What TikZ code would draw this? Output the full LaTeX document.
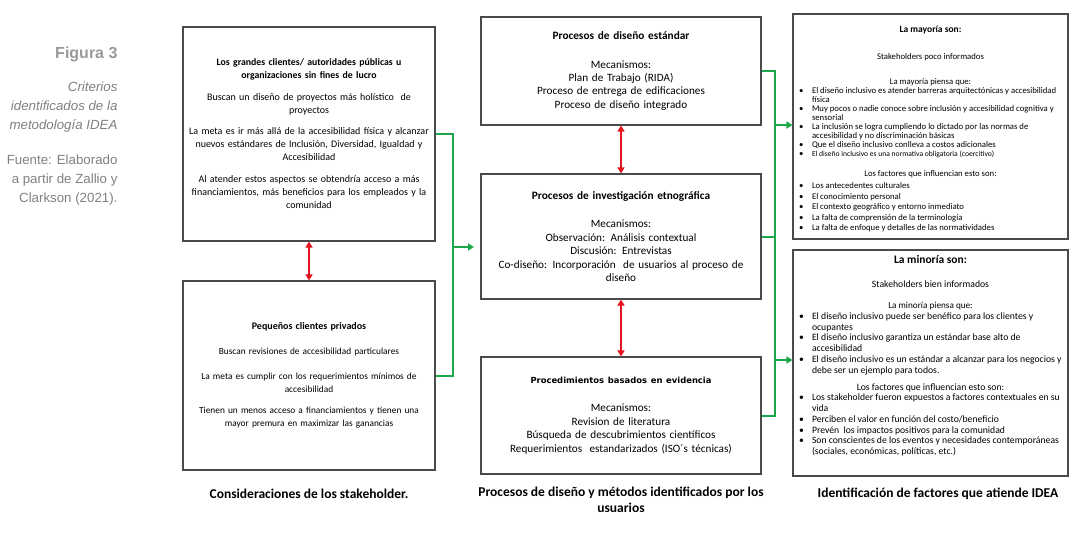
\documentclass[tikz,border=0pt]{standalone}
\usepackage{fontspec}
\setmainfont{Carlito}
\newfontfamily\arialfont{Liberation Sans}
\newfontfamily\anchofont{DejaVu Sans}
\usetikzlibrary{positioning, arrows.meta}
\definecolor{bordegris}{HTML}{4A4A4A}
\definecolor{verdelin}{HTML}{1BA84A}
\definecolor{rojolin}{HTML}{E3141B}
\definecolor{grisfig}{HTML}{999999}
\definecolor{gristxt}{HTML}{808080}
\newcommand{\cen}[1]{{\centering #1\par}}
\newcommand{\vin}[1]{\par\hangindent=15pt\hangafter=1\noindent\hbox to 15pt{\hspace{2pt}\textbullet\hfil}#1\par}

\begin{document}
\begin{tikzpicture}[
  x=1pt, y=-1pt,
  caja/.style={rectangle, draw=bordegris, line width=1.1pt, fill=white, align=center, inner sep=5pt},
  izq/.style={caja, minimum width=250pt, text width=242pt, font=\fontsize{10}{13}\selectfont},
  med/.style={caja, minimum width=280pt, text width=270pt, font=\fontsize{11.2}{13.4}\selectfont},
  der/.style={caja, minimum width=275pt, inner sep=4pt},
  tit/.style={font=\fontsize{13.5}{16}\selectfont\bfseries, align=center},
  leyenda/.style={anchor=east, align=right, text=gristxt, font=\arialfont\fontsize{13.3}{19}\selectfont},
  dobl/.style={{Triangle[length=6pt,width=7pt]}-{Triangle[length=6pt,width=7pt]}, line width=1.8pt, draw=rojolin},
  verde/.style={line width=2pt, draw=verdelin},
  fle/.style={verde, -{Triangle[length=6pt,width=7pt]}, fill=verdelin}
]
\useasboundingbox (0,0) rectangle (1083,535);

\node[leyenda, text=grisfig, font=\arialfont\bfseries\fontsize{16}{19}\selectfont] (fig) at (121,54) {Figura 3};
\node[leyenda, font=\arialfont\itshape\fontsize{13.3}{19}\selectfont] (crit) at (121,107) {Criterios\\identificados de la\\metodología IDEA};
\node[leyenda] (fuente) at (121,180) {Fuente: Elaborado\\a partir de Zallio y\\Clarkson (2021).};

\node[izq, minimum height=214pt] (gran) at (309,134) {{\fontsize{9.8}{13}\selectfont\bfseries Los grandes clientes/ autoridades públicas u\\organizaciones sin fines de lucro}\\[9pt]
Buscan un diseño de proyectos más holístico~ de\\proyectos\\[8pt]
La meta es ir más allá de la accesibilidad física y alcanzar\\nuevos estándares de Inclusión, Diversidad, Igualdad y\\Accesibilidad\\[9pt]
Al atender estos aspectos se obtendría acceso a más\\financiamientos, más beneficios para los empleados y la\\comunidad};
\node[izq, minimum height=189pt, font=\fontsize{9.35}{13}\selectfont] (peq) at (309,375.5) {{\fontsize{10}{13}\selectfont\bfseries Pequeños clientes privados}\\[12pt]
Buscan revisiones de accesibilidad particulares\\[12pt]
La meta es cumplir con los requerimientos mínimos de\\accesibilidad\\[8pt]
Tienen un menos acceso a financiamientos y tienen una\\mayor premura en maximizar las ganancias};

\node[med, minimum height=108pt] (est) at (621,71) {{\fontsize{11.3}{13.4}\selectfont\bfseries Procesos de diseño estándar}\\[15pt]
Mecanismos:\\Plan de Trabajo (RIDA)\\Proceso de entrega de edificaciones\\Proceso de diseño integrado};
\node[med, minimum height=125pt] (etno) at (621,236.5) {{\fontsize{11.3}{13.4}\selectfont\bfseries Procesos de investigación etnográfica}\\[15pt]
Mecanismos:\\Observación: Análisis contextual\\Discusión: Entrevistas\\Co-diseño: Incorporación~ de usuarios al proceso de\\diseño};
\node[med, minimum height=117pt] (evid) at (621,415.5) {{\anchofont\fontsize{8.4}{13.4}\selectfont\bfseries Procedimientos basados en evidencia}\\[15pt]
Mecanismos:\\Revision de literatura\\Búsqueda de descubrimientos científicos\\Requerimientos~ estandarizados (ISO´s técnicas)};

\node[der, minimum height=225pt] (mayor) at (930.5,126.5) {\begin{minipage}{267pt}\fontsize{8.7}{9.1}\selectfont\setlength{\parskip}{0pt}\raggedright
\vspace*{5pt}
\cen{\fontsize{9.5}{9.1}\selectfont\bfseries La mayoría son:}\vspace{18.5pt}
\cen{Stakeholders poco informados}\vspace{15pt}
\cen{La mayoría piensa que:}
\vin{El diseño inclusivo es atender barreras arquitectónicas y accesibilidad\newline física}
\vin{Muy pocos o nadie conoce sobre inclusión y accesibilidad cognitiva y\newline sensorial}
\vin{La inclusión se logra cumpliendo lo dictado por las normas de\newline accesibilidad y no discriminación básicas}
\vin{Que el diseño inclusivo conlleva a costos adicionales}
\vin{{\fontsize{7.6}{9.1}\selectfont El diseño inclusivo es una normativa obligatoria (coercitivo)}}\vspace{9.5pt}
\fontsize{8.7}{10.5}\selectfont
\cen{Los factores que influencian esto son:}\vspace{1.5pt}
\vin{Los antecedentes culturales}
\vin{El conocimiento personal}
\vin{El contexto geográfico y entorno inmediato}
\vin{La falta de comprensión de la terminología}
\vin{La falta de enfoque y detalles de las normatividades}
\end{minipage}};
\node[der, minimum height=226pt] (minor) at (930.5,363) {\begin{minipage}{267pt}\fontsize{9.7}{10.7}\selectfont\setlength{\parskip}{0pt}\raggedright
\cen{\fontsize{11.5}{10.7}\selectfont\bfseries La minoría son:}\vspace{13.3pt}
\cen{Stakeholders bien informados}\vspace{11pt}
\cen{{\fontsize{9.2}{10.7}\selectfont La minoría piensa que:}}
\vin{El diseño inclusivo puede ser benéfico para los clientes y\newline ocupantes}
\vin{El diseño inclusivo garantiza un estándar base alto de\newline accesibilidad}
\vin{El diseño inclusivo es un estándar a alcanzar para los negocios y\newline debe ser un ejemplo para todos.}\vspace{6.5pt}
\cen{Los factores que influencian esto son:}
\vin{Los stakeholder fueron expuestos a factores contextuales en su\newline vida}
\vin{Perciben el valor en función del costo/beneficio}
\vin{Prevén~ los impactos positivos para la comunidad}
\vin{Son conscientes de los eventos y necesidades contemporáneas\newline (sociales, económicas, políticas, etc.)}
\vspace{15pt}\hrule height 0pt
\end{minipage}};

\node[tit] (lblizq) at (309,494) {Consideraciones de los stakeholder.};
\node[tit] (lblmed) at (621,500) {Procesos de diseño y métodos identificados por los\\usuarios};
\node[tit] (lblder) at (938,494) {Identificación de factores que atiende IDEA};

\draw[dobl] (gran) -- (peq);
\draw[dobl] (est) -- (etno);
\draw[dobl] (etno) -- (evid);

\coordinate (gx) at (453,247);
\coordinate (gtip) at (474,247);
\draw[verde] (gran.east) -| (gx) |- (peq.east);
\draw[fle] (gx) -- (gtip);

\coordinate (dx) at (775,240);
\coordinate (da) at (775,125);
\coordinate (db) at (775,360);
\draw[verde] (est.east) -| (dx) |- (evid.east);
\draw[verde] (etno.east) -- (etno.east -| dx);
\draw[fle] (da) -- (mayor.west |- da);
\draw[fle] (db) -- (minor.west |- db);

\end{tikzpicture}
\end{document}
